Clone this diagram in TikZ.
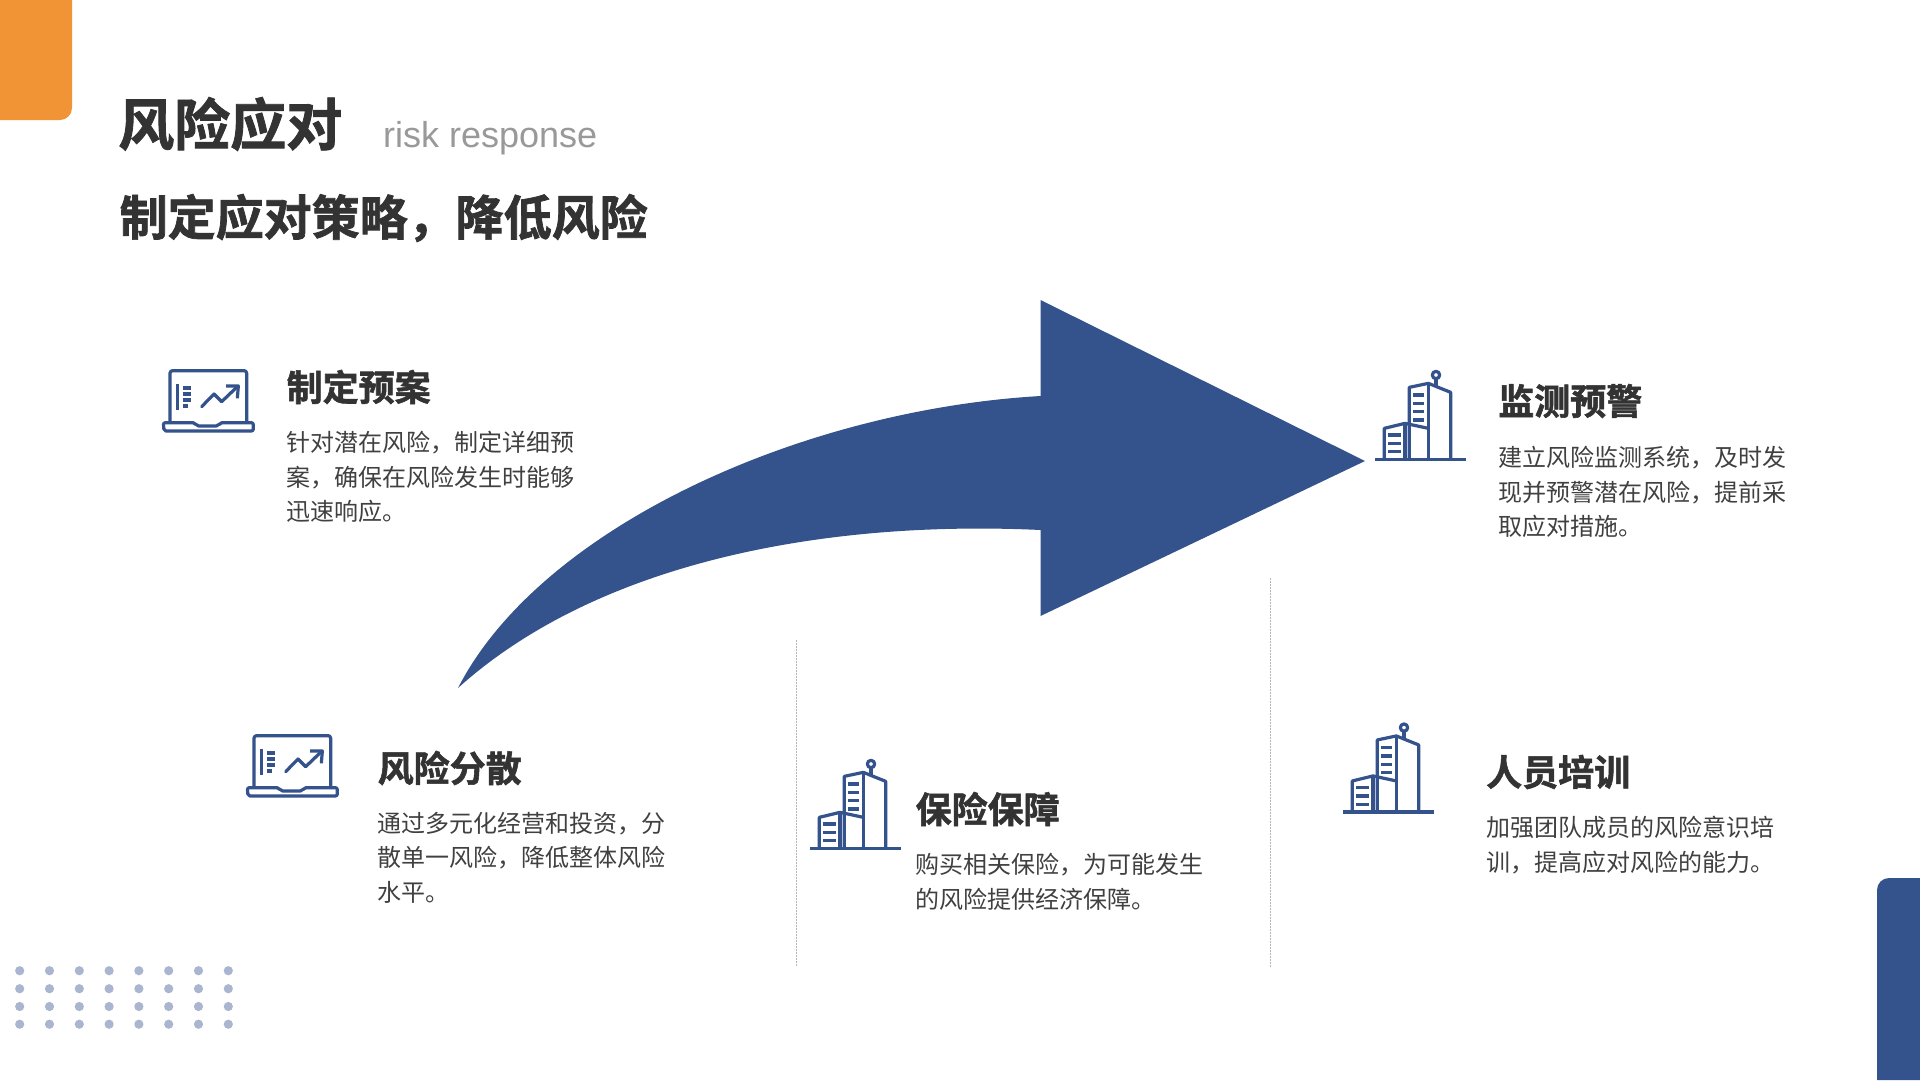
\documentclass[tikz,border=0pt]{standalone}
\usepackage{fontspec}
\setmainfont{Liberation Sans}
\newfontfamily\cjkreg{Noto Sans CJK SC}
\newfontfamily\cjkbold{Noto Sans CJK SC Bold}[FakeBold=1.5]
\definecolor{brandblue}{HTML}{34528C}
\definecolor{brandorange}{HTML}{F09435}
\definecolor{dotblue}{HTML}{AAB6CF}
\definecolor{darktext}{HTML}{333333}
\definecolor{bodytext}{HTML}{404040}
\definecolor{subgrey}{HTML}{999999}
\definecolor{rulegrey}{HTML}{B5B5B5}
\tikzset{
  x=1pt,y=-1pt,
  heading/.style={anchor=west,inner sep=0pt,text=darktext,font=\cjkbold\fontsize{36}{36}\selectfont},
  bodycopy/.style={anchor=north west,inner sep=0pt,align=left,text=bodytext,font=\cjkreg\fontsize{24}{34.5}\selectfont},
  iconline/.style={draw=brandblue,line width=3.2pt,line join=round},
  rulebar/.style={draw=rulegrey,line width=1pt,dash pattern=on 1.5pt off 1.5pt},
  laptop/.pic={
    \begin{scope}[scale=1/3]
      \draw[iconline,rounded corners=2.5pt] (60,220) -- (60,62) -- (290,62) -- (290,220);
      \draw[iconline,rounded corners=2pt] (40,218) -- (135,218) -- (140,228) -- (205,228) -- (210,218) -- (310,218) -- (310,243) -- (42,243) -- cycle;
      \draw[iconline] (82,103) -- (82,180);
      \draw[iconline] (98,114) -- (122,114) (98,132) -- (122,132) (98,150) -- (122,150) (98,168) -- (115,168);
      \draw[iconline,line cap=round] (155,170) -- (192,132) -- (215,155) -- (262,110);
      \draw[iconline] (228,108) -- (265,108) -- (262,145);
    \end{scope}
  },
  tower/.pic={
    \begin{scope}[scale=1/3]
      \draw[iconline] (45,298) -- (318,298);
      \draw[iconline] (148,298) -- (148,82) -- (205,70) -- (272,97) -- (272,298);
      \draw[iconline] (205,70) -- (205,298);
      \draw[iconline] (73,298) -- (73,205) -- (135,190) -- (205,205);
      \draw[iconline] (135,190) -- (135,298);
      \draw[iconline] (160,105) -- (192,105) (160,130) -- (192,130) (160,155) -- (192,155) (160,180) -- (192,180);
      \draw[iconline] (85,225) -- (122,225) (85,250) -- (122,250) (85,275) -- (122,275);
      \draw[iconline] (228,45) circle[radius=11];
      \draw[iconline] (228,57) -- (228,78);
    \end{scope}
  }
}
\begin{document}
\begin{tikzpicture}
\useasboundingbox (0,0) rectangle (1920,1080);
\fill[white] (0,0) rectangle (1920,1080);
% corner accents
\fill[brandorange] (0,0) -- (72,0) -- (72,108) arc[start angle=0,end angle=90,radius=12] -- (0,120) -- cycle;
\fill[brandblue] (1920,1080) -- (1877,1080) -- (1877,890) arc[start angle=180,end angle=270,radius=12] -- (1920,878) -- cycle;
% dots
\foreach \i in {0,...,7}
  \foreach \yy in {970.7,988.7,1006.5,1024.2}
    \fill[dotblue] ({19.7+29.8*\i},\yy) circle[radius=4.6];
% titles
\node[anchor=west,inner sep=0pt,text=darktext,font=\cjkbold\fontsize{56}{56}\selectfont] (title) at (118,124) {风险应对};
\node[anchor=west,inner sep=0pt,text=subgrey,font=\fontsize{36}{36}\selectfont] (subtitle) at (383,138) {risk response};
\node[anchor=west,inner sep=0pt,text=darktext,font=\cjkbold\fontsize{48}{48}\selectfont] (slogan) at (119.5,218) {制定应对策略，降低风险};
% big arrow
\fill[brandblue] (458,688) .. controls (540,528) and (800,410) .. (1040.5,396)
  -- (1040.5,300) -- (1365,461) -- (1040.5,616) -- (1040.5,530)
  .. controls (830,520) and (600,560) .. (458,688) -- cycle;
% rules
\draw[rulebar] (796,640) -- (796,967);
\draw[rulebar] (1270,578) -- (1270,967);
% icons
\pic at (150,350) {laptop};
\pic at (234,715) {laptop};
\pic at (1360,360) {tower};
\pic at (1328,712.6) {tower};
\pic at (795,749) {tower};
% blocks
\node[heading] (h1) at (286.5,387) {制定预案};
\node[bodycopy] (b1) at (286.5,431) {针对潜在风险，制定详细预\\案，确保在风险发生时能够\\迅速响应。};
\node[heading] (h2) at (1498,401) {监测预警};
\node[bodycopy] (b2) at (1498,446) {建立风险监测系统，及时发\\现并预警潜在风险，提前采\\取应对措施。};
\node[heading] (h3) at (377.5,768) {风险分散};
\node[bodycopy] (b3) at (377.5,812) {通过多元化经营和投资，分\\散单一风险，降低整体风险\\水平。};
\node[heading] (h4) at (915.5,809) {保险保障};
\node[bodycopy] (b4) at (915.5,853) {购买相关保险，为可能发生\\的风险提供经济保障。};
\node[heading] (h5) at (1486,772) {人员培训};
\node[bodycopy] (b5) at (1486,816) {加强团队成员的风险意识培\\训，提高应对风险的能力。};
\end{tikzpicture}
\end{document}
